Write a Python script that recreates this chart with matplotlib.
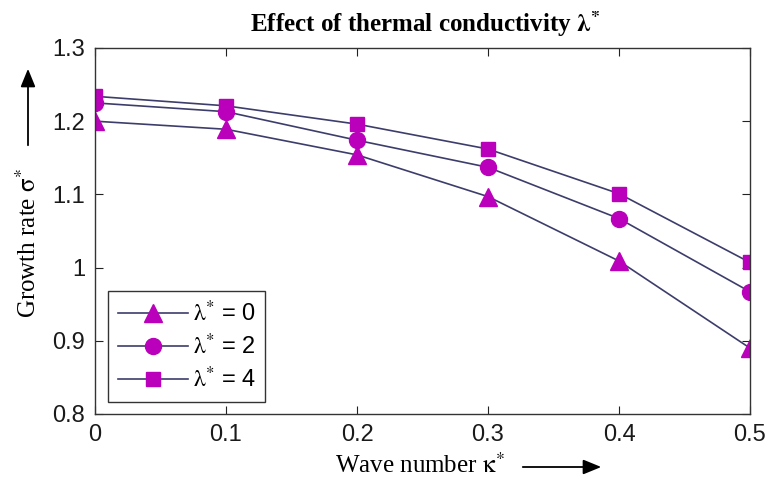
import numpy as np
import matplotlib
matplotlib.use("Agg")
import matplotlib.pyplot as plt

# values
kappa = [0, 0.1, 0.2, 0.3, 0.4, 0.5]
sigma_l0 = [1.200, 1.189, 1.154, 1.097, 1.009, 0.890]
sigma_l2 = [1.225, 1.213, 1.174, 1.137, 1.067, 0.967]
sigma_l4 = [1.234, 1.221, 1.196, 1.162, 1.101, 1.007]
labels = [r"$\mathrm{\lambda}^{*}$ = 0", r"$\mathrm{\lambda}^{*}$ = 2", r"$\mathrm{\lambda}^{*}$ = 4"]
xticks = [0, 0.1, 0.2, 0.3, 0.4, 0.5]
xticklabels = ["0", "0.1", "0.2", "0.3", "0.4", "0.5"]
yticks = [0.8, 0.9, 1.0, 1.1, 1.2, 1.3]
yticklabels = ["0.8", "0.9", "1", "1.1", "1.2", "1.3"]

plt.rcParams["mathtext.fontset"] = "stix"
plt.rcParams["font.family"] = ["Liberation Sans", "DejaVu Sans"]

W, H = 768, 483
fig = plt.figure(figsize=(W / 100, H / 100), dpi=100)
ax = fig.add_axes([95 / W, 1 - 414 / H, 655 / W, 366 / H])

line_col = "#3d3d6b"
mk_col = "#bb00bb"
series = [(sigma_l0, "^", 13), (sigma_l2, "o", 11.5), (sigma_l4, "s", 9.5)]
for (vals, mk, ms), lab in zip(series, labels):
    ax.plot(kappa, vals, color=line_col, lw=1.2, marker=mk, ms=ms,
            mfc=mk_col, mec=mk_col, label=lab)

ax.set_xlim(0, 0.5)
ax.set_ylim(0.8, 1.3)
ax.set_xticks(xticks)
ax.set_xticklabels(xticklabels)
ax.set_yticks(yticks)
ax.set_yticklabels(yticklabels)
ax.tick_params(direction="in", length=6, width=0.8, top=True, right=True,
               labelsize=17, pad=7, colors="#222222", labelcolor="#1a1a1a")
for sp in ax.spines.values():
    sp.set_color("#333333")
    sp.set_linewidth(1.0)

leg = ax.legend(loc="lower left", bbox_to_anchor=(0.02, 0.033), borderaxespad=0,
                fontsize=17, frameon=True, fancybox=False, edgecolor="#333333",
                framealpha=1, handlelength=3.0, handletextpad=0.2,
                labelspacing=0.32, borderpad=0.4)
leg.get_frame().set_linewidth(1.0)

serif = ["Liberation Serif", "DejaVu Serif"]
fig.text(425 / W, 1 - 24 / H, r"Effect of thermal conductivity $\mathbf{\lambda}^{\mathbf{*}}$",
         ha="center", va="center", fontsize=18, fontweight="bold", family=serif)
fig.text(420 / W, 1 - 465 / H, r"Wave number $\mathrm{\kappa}^{*}$",
         ha="center", va="center", fontsize=18, family=serif)
fig.text(28 / W, 1 - 243 / H, r"Growth rate $\mathrm{\sigma}^{*}$",
         ha="center", va="center", rotation=90, fontsize=18, family=serif)

# the two direction arrows next to the axis labels
fig.patches.append(matplotlib.patches.FancyArrowPatch(
    (520 / W, 1 - 467 / H), (604 / W, 1 - 467 / H), transform=fig.transFigure,
    arrowstyle="-|>,head_length=11,head_width=4.5", color="black", lw=1.3))
fig.patches.append(matplotlib.patches.FancyArrowPatch(
    (28 / W, 1 - 148 / H), (28 / W, 1 - 66 / H), transform=fig.transFigure,
    arrowstyle="-|>,head_length=11,head_width=4.5", color="black", lw=1.3))

fig.savefig("out.png", dpi=100, facecolor="white")
